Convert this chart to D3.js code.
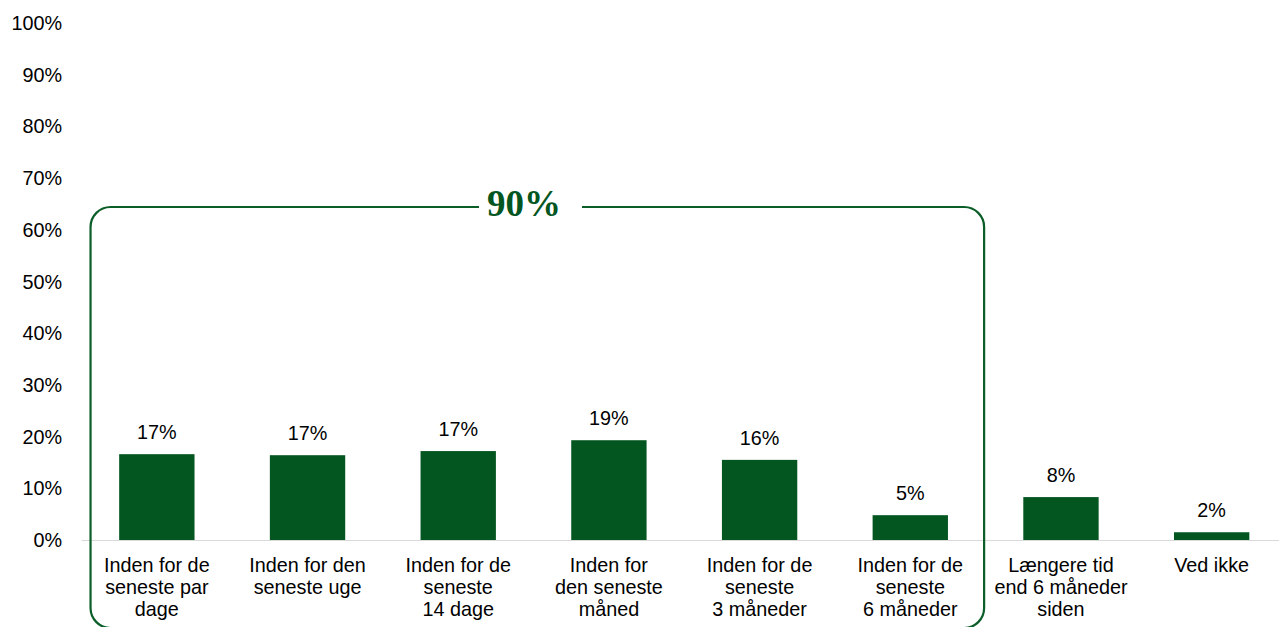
<!DOCTYPE html>
<html>
<head>
<meta charset="utf-8">
<script src="https://cdn.jsdelivr.net/npm/d3@7"></script>
<style>
  body { margin: 0; background: #fff; }
  svg { display: block; }
</style>
</head>
<body>
<div id="chart"></div>
<script>
var categories = ["c1", "c2", "c3", "c4", "c5", "c6", "c7", "c8"];
var categoryLines = [
    ["Inden for de", "seneste par", "dage"],
    ["Inden for den", "seneste uge"],
    ["Inden for de", "seneste", "14 dage"],
    ["Inden for", "den seneste", "måned"],
    ["Inden for de", "seneste", "3 måneder"],
    ["Inden for de", "seneste", "6 måneder"],
    ["Længere tid", "end 6 måneder", "siden"],
    ["Ved ikke"]
];
var values = [16.6, 16.4, 17.2, 19.3, 15.5, 4.8, 8.3, 1.5];
var valueLabels = ["17%", "17%", "17%", "19%", "16%", "5%", "8%", "2%"];
var yTicks = [0, 10, 20, 30, 40, 50, 60, 70, 80, 90, 100];
var groupLabel = "90%";
var groupCount = 6;

var width = 1279, height = 627;
var green = "#03561f";
var font = "19.8px 'Liberation Sans', Arial, sans-serif";

var svg = d3.select("#chart").append("svg")
    .attr("width", width)
    .attr("height", height);

var x = d3.scaleBand()
    .domain(categories)
    .range([81.5, 1287])
    .paddingInner(0.5)
    .paddingOuter(0.25);

var y = d3.scaleLinear()
    .domain([0, 100])
    .range([540, 23]);

// y tick labels
svg.append("g")
    .selectAll("text")
    .data(yTicks)
    .join("text")
    .attr("x", 62)
    .attr("y", d => y(d) + 7)
    .attr("text-anchor", "end")
    .style("font", font)
    .style("fill", "#000")
    .text(d => d + "%");

// bars
svg.append("g")
    .selectAll("rect")
    .data(values)
    .join("rect")
    .attr("x", (d, i) => x(categories[i]))
    .attr("y", d => y(d))
    .attr("width", x.bandwidth())
    .attr("height", d => y(0) - y(d))
    .attr("fill", green);

// baseline
svg.append("line")
    .attr("x1", x.range()[0])
    .attr("x2", width)
    .attr("y1", y(0) + 0.5)
    .attr("y2", y(0) + 0.5)
    .attr("stroke", "#d9d9d9")
    .attr("stroke-width", 1);

// value labels
svg.append("g")
    .selectAll("text")
    .data(values)
    .join("text")
    .attr("x", (d, i) => x(categories[i]) + x.bandwidth() / 2)
    .attr("y", d => y(d) - 15)
    .attr("text-anchor", "middle")
    .style("font", font)
    .style("fill", "#000")
    .text((d, i) => valueLabels[i]);

// category labels
var catG = svg.append("g")
    .selectAll("text")
    .data(categoryLines)
    .join("text")
    .attr("text-anchor", "middle")
    .style("font", font)
    .style("fill", "#000");

catG.selectAll("tspan")
    .data((d, i) => d.map(t => ({ t: t, i: i })))
    .join("tspan")
    .attr("x", d => x(categories[d.i]) + x.bandwidth() / 2)
    .attr("y", (d, j) => 572 + j * 22)
    .text(d => d.t);

// bracket around the first six categories
var bx0 = x(categories[0]) - x.step() * 0.19,
    bx1 = x(categories[groupCount - 1]) + x.bandwidth() + x.step() * 0.24,
    by0 = 207,
    by1 = 628,
    r = 20,
    gap = 51;

var labelX = 524;

var p = d3.path();
p.moveTo(labelX - gap + 6, by0);
p.lineTo(bx0 + r, by0);
p.arcTo(bx0, by0, bx0, by0 + r, r);
p.lineTo(bx0, by1 - r);
p.arcTo(bx0, by1, bx0 + r, by1, r);
p.lineTo(bx1 - r, by1);
p.arcTo(bx1, by1, bx1, by1 - r, r);
p.lineTo(bx1, by0 + r);
p.arcTo(bx1, by0, bx1 - r, by0, r);
p.lineTo(labelX + gap + 7, by0);

svg.append("path")
    .attr("d", p.toString())
    .attr("fill", "none")
    .attr("stroke", "#0b5e28")
    .attr("stroke-width", 2.2);

svg.append("text")
    .attr("x", labelX)
    .attr("y", 216)
    .attr("text-anchor", "middle")
    .style("font", "bold 37px 'Liberation Serif', 'Times New Roman', serif")
    .style("fill", green)
    .text(groupLabel);
</script>
</body>
</html>
